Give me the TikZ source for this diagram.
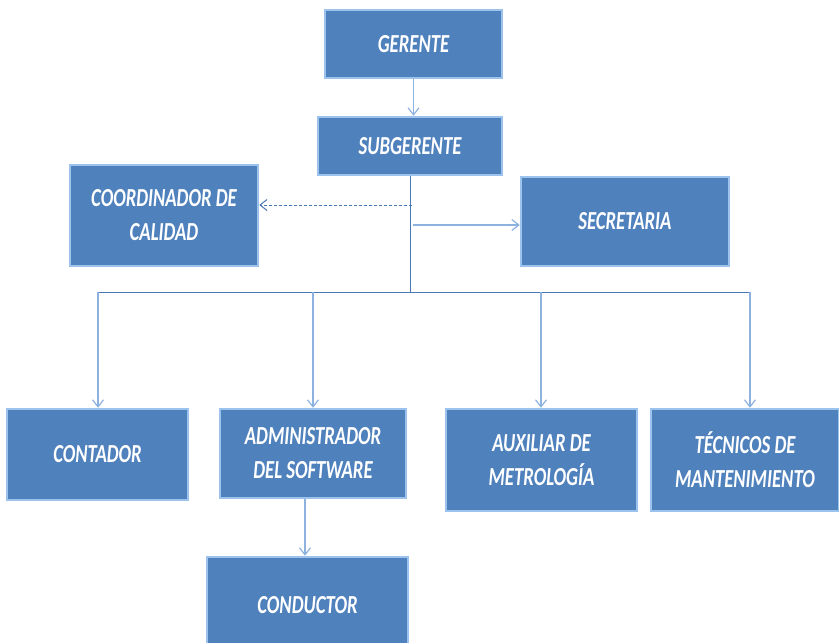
\documentclass[tikz,border=0pt]{standalone}
\usepackage{fontspec}
\newfontfamily\boxfont{Carlito}[FakeStretch=0.72]
\usetikzlibrary{arrows.meta}
\definecolor{boxfill}{HTML}{4F81BD}
\definecolor{boxedge}{HTML}{9CC2EE}
\definecolor{darkline}{HTML}{4A78B4}
\definecolor{lightline}{HTML}{8DB2E0}
\tikzset{
  box/.style={fill=boxfill, draw=boxedge, line width=2.5pt, text=white,
    font=\boxfont\bfseries\itshape\fontsize{26}{34}\selectfont, align=center,
    inner sep=0pt, anchor=center},
  tip/.style={-{Straight Barb[length=7pt,width=11pt]}},
  dline/.style={draw=darkline, line width=1pt},
  lline/.style={draw=lightline, line width=1.2pt},
}
\begin{document}
\begin{tikzpicture}[x=1pt,y=-1pt]
\useasboundingbox (0,0) rectangle (839,643);
\clip (0,0) rectangle (839,643);
% boxes
\node[box, minimum width=177pt, minimum height=68pt] (ger) at (413.5,44) {GERENTE};
\node[box, minimum width=184pt, minimum height=58pt] (sub) at (410,146) {SUBGERENTE};
\node[box, minimum width=188pt, minimum height=101pt] (coo) at (164,215.5) {COORDINADOR DE\\CALIDAD};
\node[box, minimum width=208pt, minimum height=89pt] (sec) at (625,221.5) {SECRETARIA};
\node[box, minimum width=181pt, minimum height=91pt] (con) at (97.5,454.5) {CONTADOR};
\node[box, minimum width=186pt, minimum height=89pt] (adm) at (313,453.5) {ADMINISTRADOR\\DEL SOFTWARE};
\node[box, minimum width=191pt, minimum height=102pt] (aux) at (541.5,460) {AUXILIAR DE\\METROLOGÍA};
\node[box, minimum width=188pt, minimum height=102pt] (tec) at (745,460) {TÉCNICOS DE\\MANTENIMIENTO};
\node[box, minimum width=201pt, minimum height=96pt] (cdr) at (307.5,605) {CONDUCTOR};
% coordinates
\coordinate (bus) at (410,292);
\coordinate (dq) at (412,205);
\coordinate (sq) at (413,225);
\coordinate (b1) at (98,292);
\coordinate (b2) at (313,292);
\coordinate (b3) at (541,292);
\coordinate (b4) at (750,292);
\coordinate (a1) at (305,0);
% connectors
\draw[lline, tip] (ger.south) -- (ger.south |- sub.north);
\draw[dline] (sub.south) -- (bus);
\draw[dline] (b1) -- (b4);
\draw[dline, dashed, dash pattern=on 3pt off 2pt, tip] (dq) -- (dq -| coo.east);
\draw[lline, tip] (sq) -- (sq -| sec.west);
\draw[lline, tip] (b1) -- (b1 |- con.north);
\draw[lline, tip] (b2) -- (b2 |- adm.north);
\draw[lline, tip] (b3) -- (b3 |- aux.north);
\draw[lline, tip] (b4) -- (b4 |- tec.north);
\draw[lline, tip] (a1 |- adm.south) -- (a1 |- cdr.north);
\end{tikzpicture}
\end{document}
